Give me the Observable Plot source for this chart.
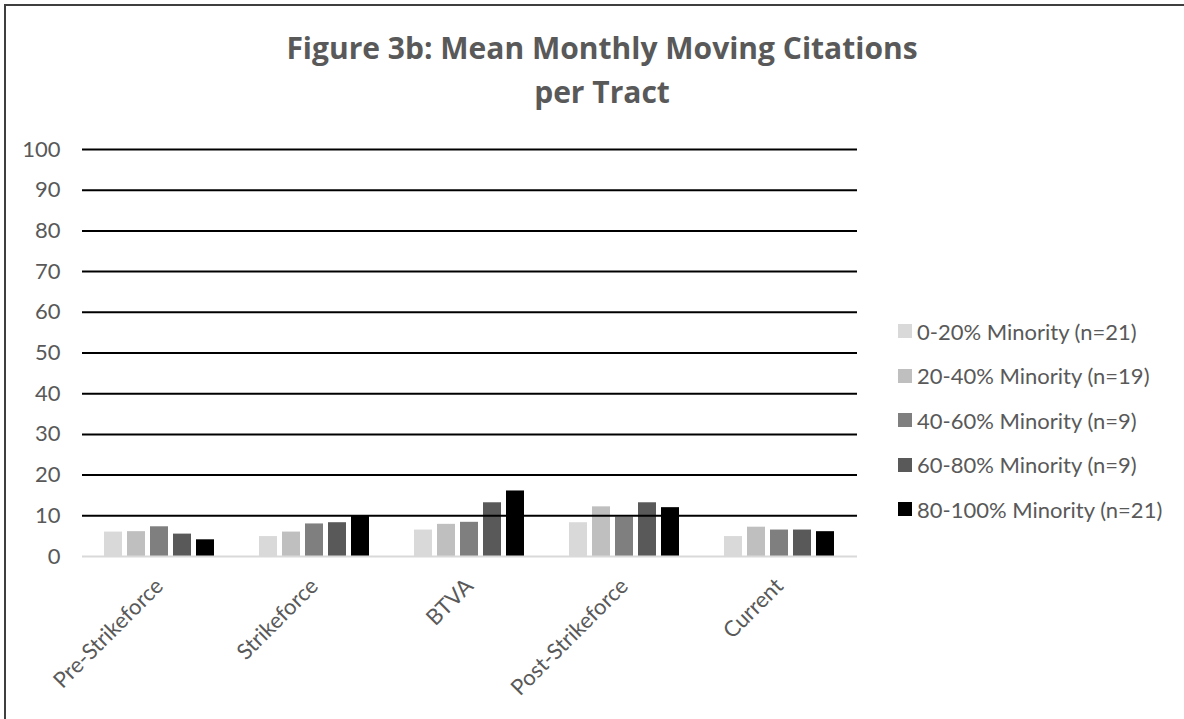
<!DOCTYPE html>
<html>
<head>
<meta charset="utf-8">
<script src="https://cdn.jsdelivr.net/npm/d3@7"></script>
<script src="https://cdn.jsdelivr.net/npm/@observablehq/plot@0.6"></script>
<style>
  html, body { margin: 0; padding: 0; background: #fff; overflow: hidden; width: 1184px; height: 719px; }
  #frame { position: absolute; left: 4px; top: 4px; width: 1250px; height: 800px; border: 2px solid #3f3f3f; box-sizing: border-box; }
  #title { position: absolute; left: 152px; width: 900px; top: 26px; text-align: center; font-family: "Open Sans", sans-serif; font-weight: bold; font-size: 30px; line-height: 44px; color: #595959; }
  .layer { position: absolute; left: 0; top: 0; }
  #legend { position: absolute; left: 898px; top: 309px; font-family: Lato, sans-serif; font-size: 22px; color: #595959; }
  #legend .row { display: flex; align-items: center; height: 44.5px; white-space: nowrap; }
  #legend .sw { width: 14px; height: 14px; margin-right: 5px; flex: none; }
</style>
</head>
<body>
<div id="frame"></div>
<div id="bars" class="layer"></div>
<div id="grid" class="layer"></div>
<div id="title">Figure 3b: Mean Monthly Moving Citations<br>per Tract</div>
<div id="legend"></div>
<script>
const categories = ["Pre-Strikeforce", "Strikeforce", "BTVA", "Post-Strikeforce", "Current"];
const groups = [
  "0-20% Minority (n=21)",
  "20-40% Minority (n=19)",
  "40-60% Minority (n=9)",
  "60-80% Minority (n=9)",
  "80-100% Minority (n=21)"
];
const colors = ["#d9d9d9", "#bfbfbf", "#7f7f7f", "#595959", "#000000"];
const values0to20 = [6.0, 4.9, 6.5, 8.3, 4.9];
const values20to40 = [6.1, 6.0, 7.9, 12.2, 7.2];
const values40to60 = [7.3, 8.0, 8.4, 9.7, 6.5];
const values60to80 = [5.5, 8.3, 13.2, 13.2, 6.5];
const values80to100 = [4.1, 9.9, 16.1, 12.0, 6.1];
const yTicks = [0, 10, 20, 30, 40, 50, 60, 70, 80, 90, 100];

const series = [values0to20, values20to40, values40to60, values60to80, values80to100];
const data = [];
series.forEach((vals, gi) => {
  vals.forEach((v, ci) => data.push({category: categories[ci], group: groups[gi], value: v}));
});

const common = {
  width: 1184,
  height: 719,
  marginLeft: 82,
  marginRight: 327,
  marginTop: 149,
  marginBottom: 163,
  style: {fontFamily: "Lato, sans-serif", fontSize: "22px", color: "#595959", background: "transparent"}
};

// bars + category axis (faceted by category)
const barsChart = Plot.plot({
  ...common,
  fx: {domain: categories, paddingInner: 0.262, paddingOuter: 0.131},
  x: {domain: groups, paddingInner: 0.21, paddingOuter: 0, axis: null},
  y: {domain: [0, 100], axis: null},
  color: {domain: groups, range: colors},
  marks: [
    Plot.barY(data, {fx: "category", x: "group", y: "value", fill: "group"}),
    Plot.axisFx({anchor: "bottom", tickSize: 0, tickPadding: 26, tickRotate: -45, fontSize: 22, fill: "#595959", label: null})
  ]
});
document.getElementById("bars").appendChild(barsChart);

// continuous gridlines + value axis drawn over the bars, same y scale
const gridChart = Plot.plot({
  ...common,
  y: {domain: [0, 100], axis: null},
  marks: [
    Plot.ruleY([0], {stroke: "#d9d9d9", strokeWidth: 2}),
    Plot.ruleY(yTicks.filter(d => d > 0), {stroke: "#000", strokeWidth: 2}),
    Plot.axisY({ticks: yTicks, tickSize: 0, tickPadding: 22, fontSize: 22, fill: "#595959", label: null})
  ]
});
document.getElementById("grid").appendChild(gridChart);

const legend = document.getElementById("legend");
groups.forEach((g, i) => {
  const row = document.createElement("div");
  row.className = "row";
  const sw = document.createElement("div");
  sw.className = "sw";
  sw.style.background = colors[i];
  const t = document.createElement("span");
  t.textContent = g;
  row.appendChild(sw);
  row.appendChild(t);
  legend.appendChild(row);
});
</script>
</body>
</html>
